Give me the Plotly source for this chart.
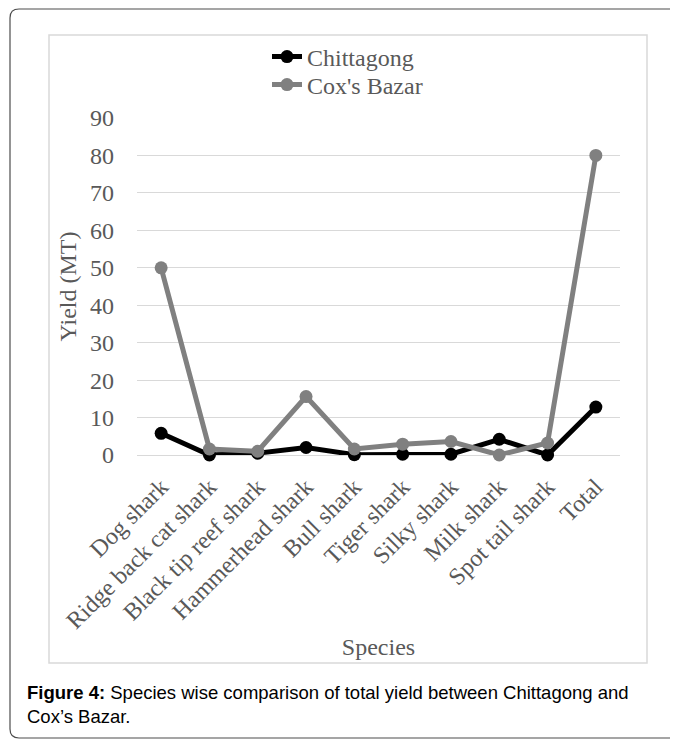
import plotly.graph_objects as go

# Data
species = [
    "Dog shark",
    "Ridge back cat shark",
    "Black tip reef shark",
    "Hammerhead shark",
    "Bull shark",
    "Tiger shark",
    "Silky shark",
    "Milk shark",
    "Spot tail shark",
    "Total",
]
chittagong = [5.8, 0.0, 0.5, 2.0, 0.1, 0.2, 0.2, 4.2, 0.0, 12.8]
coxs_bazar = [50.0, 1.6, 1.0, 15.6, 1.6, 2.9, 3.6, 0.0, 3.2, 80.0]
y_ticks = [0, 10, 20, 30, 40, 50, 60, 70, 80, 90]

# page body has an 8px margin, so the figure is sized to fit the window
OFF = 8
W, H = 678 - OFF, 740 - OFF
ML, MR, MT, MB = 137 - OFF, 58, 118 - OFF, 285
PW, PH = W - ML - MR, H - MT - MB

SERIF = "Liberation Serif, Times New Roman, serif"
SANS = "Liberation Sans, Arial, sans-serif"
GREY_TEXT = "#595959"


def px(x):
    # window pixel -> paper x
    return (x - OFF - ML) / PW


def py(y):
    # window pixel -> paper y
    return (H - MB - (y - OFF)) / PH


def open_frame(x0, y0, x1, y1, r):
    # left side of a rounded box, running off the right edge of the page
    rx, ry = r / PW, r / PH
    a, b, c, d = px(x0), px(x1), py(y0), py(y1)
    return (
        f"M{b},{c} L{a + rx},{c} Q{a},{c} {a},{c - ry} "
        f"L{a},{d + ry} Q{a},{d} {a + rx},{d} L{b},{d}"
    )


def main():
    fig = go.Figure()

    fig.add_trace(
        go.Scatter(
            x=species,
            y=chittagong,
            name="Chittagong",
            mode="lines+markers",
            line=dict(color="#000000", width=5),
            marker=dict(color="#000000", size=13),
            cliponaxis=False,
            legend="legend",
        )
    )
    fig.add_trace(
        go.Scatter(
            x=species,
            y=coxs_bazar,
            name="Cox's Bazar",
            mode="lines+markers",
            line=dict(color="#808080", width=5),
            marker=dict(color="#808080", size=13),
            cliponaxis=False,
            legend="legend2",
        )
    )

    legend_style = dict(
        x=px(267),
        xanchor="left",
        yanchor="middle",
        font=dict(family=SERIF, size=24, color=GREY_TEXT),
        bgcolor="rgba(0,0,0,0)",
    )

    fig.update_layout(
        width=W,
        height=H,
        margin=dict(l=ML, r=MR, t=MT, b=MB, autoexpand=False),
        paper_bgcolor="white",
        plot_bgcolor="white",
        showlegend=True,
        legend=dict(y=py(57), **legend_style),
        legend2=dict(y=py(85), **legend_style),
        xaxis=dict(
            type="category",
            range=[-0.5, 9.5],
            showgrid=False,
            showline=False,
            zeroline=False,
            ticks="",
            tickangle=-45,
            ticklabelstandoff=12,
            tickfont=dict(family=SERIF, size=24, color=GREY_TEXT),
            title=dict(
                text="Species",
                font=dict(family=SERIF, size=24, color=GREY_TEXT),
                standoff=5,
            ),
        ),
        yaxis=dict(
            range=[0, 90],
            tickvals=y_ticks,
            showgrid=True,
            gridcolor="#d9d9d9",
            gridwidth=1.4,
            zeroline=True,
            zerolinecolor="#d9d9d9",
            zerolinewidth=1.4,
            showline=False,
            ticks="",
            ticklabelstandoff=22,
            tickfont=dict(family=SERIF, size=24, color=GREY_TEXT),
            title=dict(
                text="Yield (MT)",
                font=dict(family=SERIF, size=24, color=GREY_TEXT),
                standoff=6,
            ),
        ),
    )

    # Outer rounded frame (cut at the right) and inner chart border
    fig.add_shape(
        type="path",
        xref="paper",
        yref="paper",
        path=open_frame(10, 9, 700, 738, 9),
        line=dict(color="#4d4d4d", width=1.2),
        layer="below",
    )
    fig.add_shape(
        type="rect",
        xref="paper",
        yref="paper",
        x0=px(49),
        x1=px(647),
        y0=py(663),
        y1=py(35),
        line=dict(color="#d9d9d9", width=1.5),
        layer="below",
    )

    # Figure caption
    fig.add_annotation(
        xref="paper",
        yref="paper",
        x=px(25),
        y=py(680),
        xanchor="left",
        yanchor="top",
        align="left",
        showarrow=False,
        text="<b>Figure 4:</b> Species wise comparison of total yield between Chittagong and<br>Cox\u2019s Bazar.",
        font=dict(family=SANS, size=18.5, color="#000000"),
    )

    fig.write_html("out.html")


if __name__ == "__main__":
    main()
